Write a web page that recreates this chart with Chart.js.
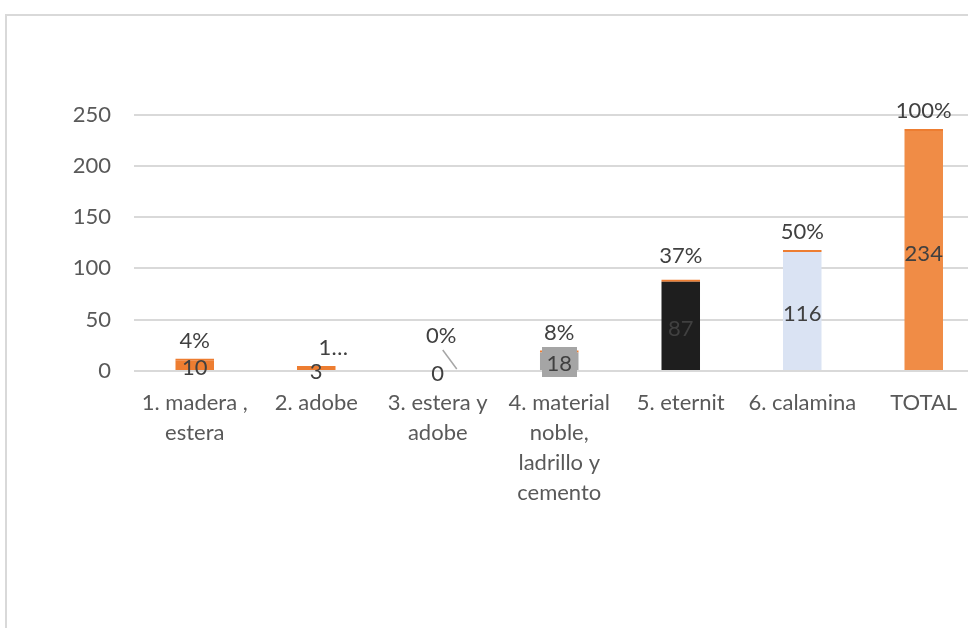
<!DOCTYPE html>
<html><head><meta charset="utf-8">
<script src="https://cdn.jsdelivr.net/npm/chart.js@4.4.1/dist/chart.umd.min.js"></script>
<style>
html,body{margin:0;padding:0;overflow:hidden;background:#fff;width:968px;height:628px}
#wrap{position:absolute;left:0;top:0;width:1000px;height:628px}
</style>
</head><body><div id="wrap"><canvas id="c" width="1000" height="628"></canvas></div>
<script>
const categories = [["1. madera ,","estera"],["2. adobe"],["3. estera y","adobe"],["4. material","noble,","ladrillo y","cemento"],["5. eternit"],["6. calamina"],["TOTAL"]];
const counts = [10, 3, 0, 18, 87, 116, 234];
const shares = [0.04, 0.01, 0, 0.08, 0.37, 0.50, 1.00];
const yTickValues = [0, 50, 100, 150, 200, 250];

const FONT = 'Lato, "Liberation Sans", sans-serif';
const countColors = ['#ED7D31','#ED7D31','#ED7D31','#A5A5A5','#1E1E1E','#DAE3F3','#F08C46'];
const shareColors = ['#ED7D31','#ED7D31','rgba(0,0,0,0)','#ED7D31','#ED7D31','#ED7D31','#ED7D31'];

const framePlugin = {
  id: 'frame',
  beforeDraw(chart) {
    const ctx = chart.ctx;
    ctx.save();
    ctx.fillStyle = '#fff';
    ctx.fillRect(0, 0, chart.width, chart.height);
    ctx.strokeStyle = '#d9d9d9';
    ctx.lineWidth = 2;
    ctx.beginPath();
    ctx.moveTo(6, chart.height + 5);
    ctx.lineTo(6, 15);
    ctx.lineTo(chart.width + 5, 15);
    ctx.stroke();
    ctx.restore();
  }
};

const labelPlugin = {
  id: 'labels',
  afterDatasetsDraw(chart) {
    const ctx = chart.ctx;
    const m0 = chart.getDatasetMeta(0), m1 = chart.getDatasetMeta(1);
    ctx.save();
    ctx.font = '22px ' + FONT;
    ctx.textAlign = 'center';
    ctx.textBaseline = 'middle';
    m0.data.forEach((el, i) => {
      const cx = el.x, cy = (el.y + el.base) / 2;
      if (i === 3) {
        ctx.fillStyle = '#A5A5A5';
        ctx.fillRect(Math.round(cx - 17.5), Math.round(cy - 14), 35, 30);
      }
      ctx.fillStyle = '#404040';
      ctx.fillText(String(counts[i]), cx, cy + 3);
    });
    m1.data.forEach((el, i) => {
      let txt = Math.round(shares[i] * 100) + '%';
      let x = el.x, y = el.y - 18;
      if (i === 1) { txt = '1\u2026'; x += 17; }
      if (i === 4) { y = el.y - 24; }
      if (i === 2) {
        x += 3.5; y = el.base - 34;
        ctx.strokeStyle = '#A6A6A6';
        ctx.lineWidth = 1.5;
        ctx.beginPath();
        ctx.moveTo(el.x + 5, el.base - 20);
        ctx.lineTo(el.x + 19, el.base - 1);
        ctx.stroke();
      }
      ctx.fillStyle = '#404040';
      ctx.fillText(txt, x, y);
    });
    ctx.restore();
  }
};

new Chart(document.getElementById('c'), {
  type: 'bar',
  data: {
    labels: categories,
    datasets: [
      { label: 'n', data: counts, backgroundColor: countColors, borderWidth: 0,
        categoryPercentage: 1, barPercentage: 0.317 },
      { label: '%', data: shares, backgroundColor: shareColors, borderWidth: 0,
        minBarLength: 2, categoryPercentage: 1, barPercentage: 0.317 }
    ]
  },
  options: {
    responsive: false,
    animation: false,
    layout: { padding: { left: 0, right: 15.5, top: 114.5, bottom: 0 } },
    plugins: { legend: { display: false }, tooltip: { enabled: false } },
    scales: {
      x: {
        stacked: true,
        grid: { display: false, drawTicks: false },
        border: { display: false },
        ticks: { color: '#595959', font: { family: FONT, size: 22, lineHeight: 1.36 }, padding: 17, maxRotation: 0, autoSkip: false },
        afterFit(s) { s.height = 628 - 371; }
      },
      y: {
        stacked: true,
        min: 0, max: 250,
        afterBuildTicks(s) { s.ticks = yTickValues.map(v => ({ value: v })); },
        grid: { color: '#d9d9d9', lineWidth: 2, drawTicks: false },
        border: { display: false },
        ticks: { color: '#595959', font: { family: FONT, size: 22 }, padding: 23 },
        afterFit(s) { s.width = 134; }
      }
    }
  },
  plugins: [framePlugin, labelPlugin]
});
</script>
</body></html>
